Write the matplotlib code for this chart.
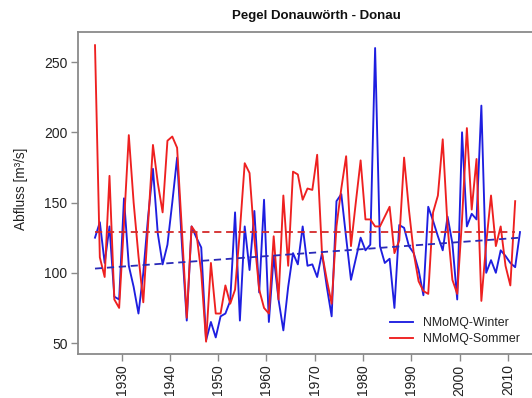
import numpy as np
import matplotlib
matplotlib.use("Agg")
import matplotlib.pyplot as plt

plt.rcParams['font.family'] = ['Liberation Sans', 'DejaVu Sans']

# --- data -------------------------------------------------------------
winter_years = list(range(1924, 2013))
winter_vals = [125, 136, 107, 133, 83, 81, 153, 105, 90, 71,
               100, 140, 174, 128, 106, 120, 150, 182, 120, 66,
               133, 125, 118, 52, 65, 54, 69, 71, 80, 143,
               66, 133, 102, 144, 86, 152, 65, 112, 81, 59,
               90, 114, 106, 133, 105, 106, 97, 114, 90, 69,
               151, 156, 125, 95, 110, 125, 116, 120, 260, 119,
               107, 110, 75, 134, 132, 119, 114, 102, 84, 147,
               137, 126, 116, 140, 121, 81, 200, 133, 142, 138,
               219, 100, 109, 100, 116, 112, 107, 104, 129]

summer_years = list(range(1924, 2012))
summer_vals = [262, 111, 97, 169, 81, 75, 135, 198, 150, 112,
               79, 135, 191, 164, 143, 194, 197, 189, 130, 68,
               133, 128, 100, 51, 107, 71, 71, 91, 78, 88,
               130, 178, 171, 124, 88, 75, 71, 126, 81, 155,
               105, 172, 170, 152, 160, 159, 184, 114, 95, 78,
               133, 160, 183, 119, 150, 180, 138, 138, 133, 133,
               140, 147, 114, 123, 182, 145, 114, 94, 87, 85,
               143, 155, 195, 133, 95, 85, 138, 203, 145, 181,
               80, 121, 155, 119, 133, 105, 91, 151]

# linear trends (start, end)
trend_winter = [103, 125]
trend_summer = [129, 129]

series_labels = ["NMoMQ-Winter", "NMoMQ-Sommer"]
x_ticks = [1930, 1940, 1950, 1960, 1970, 1980, 1990, 2000, 2010]
y_ticks = [50, 100, 150, 200, 250]

# --- figure -----------------------------------------------------------
W, H = 532, 398
fig = plt.figure(figsize=(W / 100, H / 100), dpi=100)
ax = fig.add_axes([78 / W, (H - 354) / H, (537 - 78) / W, (354 - 32) / H])

blue = '#1e1ee0'
red = '#ee2020'

wx = np.array(winter_years) + 0.5
sx = np.array(summer_years) + 0.5

ax.plot(wx, winter_vals, color=blue, lw=1.35, label=series_labels[0], zorder=3)
ax.plot(sx, summer_vals, color=red, lw=1.35, label=series_labels[1], zorder=3)

ax.plot([wx[0], wx[-1]], trend_winter, color='#2a2ab8', lw=1.3,
        dashes=(4, 2.6), zorder=4)
ax.plot([sx[0], sx[-1]], trend_summer, color='#d42a2a', lw=1.3,
        dashes=(4, 2.6), zorder=4)

ax.set_xlim(1920.98, 2016.02)
ax.set_ylim(42.2, 271.4)

ax.set_xticks(x_ticks)
ax.set_xticklabels([str(t) for t in x_ticks], rotation=90)
ax.set_yticks(y_ticks)

spine_col = '#8a8a8a'
for s in ['left', 'bottom', 'top']:
    ax.spines[s].set_color(spine_col)
    ax.spines[s].set_linewidth(1.3)
ax.spines['right'].set_visible(False)

ax.tick_params(axis='both', direction='out', length=5, width=1.0,
               color=spine_col, labelsize=10, labelcolor='#222222', pad=2.5)

ax.set_ylabel("Abfluss [m³/s]", fontsize=9.8, color='#222222')
ax.yaxis.set_label_coords((28 - 78) / 459, (354 - 189) / 322)

fig.text(316 / W, 1 - 16 / H, "Pegel Donauwörth - Donau", ha='center',
         va='center', fontsize=9.5, fontweight='bold', color='#111111')

leg = ax.legend(loc='upper left', bbox_to_anchor=(390 / W, 1 - 317 / H),
                bbox_transform=fig.transFigure, frameon=False, fontsize=8.9,
                handlelength=1.85, handletextpad=0.85, labelspacing=0.35,
                borderpad=0, borderaxespad=0)
for t in leg.get_texts():
    t.set_color('#222222')

fig.savefig("out.png", dpi=100, facecolor='white')
